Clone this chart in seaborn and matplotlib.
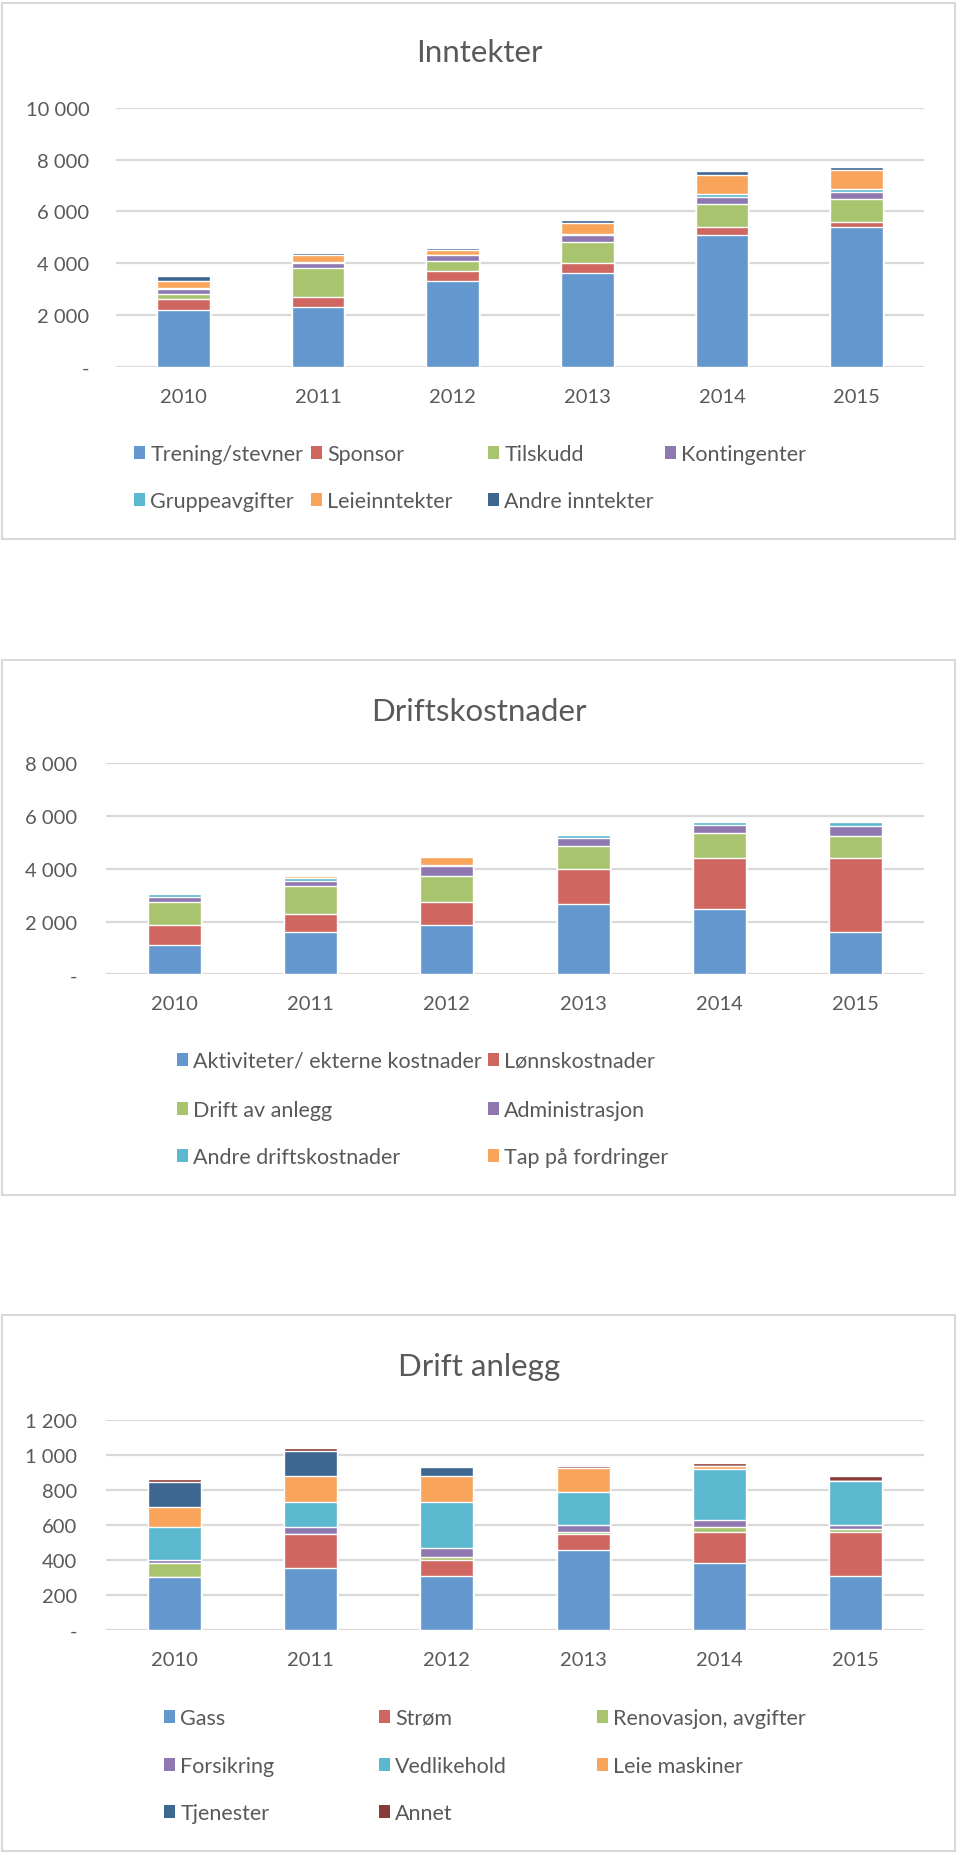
import numpy as np
import matplotlib
matplotlib.use('Agg')
import matplotlib.pyplot as plt
import seaborn as sns
from matplotlib.patches import Patch, Rectangle

sns.set_style('white')
plt.rcParams['font.family'] = ['Lato', 'DejaVu Sans']
plt.rcParams['text.color'] = '#595959'

years = ['2010', '2011', '2012', '2013', '2014', '2015']

# ---- Inntekter ----
inn_labels = ['Trening/stevner', 'Sponsor', 'Tilskudd', 'Kontingenter',
              'Gruppeavgifter', 'Leieinntekter', 'Andre inntekter']
trening = [2200, 2300, 3300, 3600, 5100, 5400]
sponsor = [400, 400, 400, 400, 280, 180]
tilskudd = [200, 1100, 400, 800, 890, 900]
kontingenter = [200, 200, 200, 280, 280, 280]
gruppeavgifter = [40, 40, 30, 40, 100, 100]
leieinntekter = [260, 260, 180, 430, 770, 750]
andre_inntekter = [200, 100, 90, 100, 120, 100]

# ---- Driftskostnader ----
drift_labels = ['Aktiviteter/ ekterne kostnader', 'Lønnskostnader', 'Drift av anlegg',
                'Administrasjon', 'Andre driftskostnader', 'Tap på fordringer']
aktiviteter = [1120, 1600, 1880, 2660, 2470, 1600]
lonn = [760, 670, 880, 1350, 1940, 2800]
drift_anlegg = [880, 1090, 960, 870, 960, 860]
administrasjon = [180, 160, 400, 300, 300, 380]
andre_drift = [110, 125, 20, 100, 115, 140]
tap = [0, 100, 300, 0, 0, 0]

# ---- Drift anlegg ----
anl_labels = ['Gass', 'Strøm', 'Renovasjon, avgifter', 'Forsikring',
              'Vedlikehold', 'Leie maskiner', 'Tjenester', 'Annet']
gass = [300, 355, 310, 455, 385, 310]
strom = [0, 190, 87, 92, 172, 250]
renovasjon = [85, 0, 17, 15, 30, 15]
forsikring = [12, 42, 56, 38, 42, 26]
vedlikehold = [190, 145, 262, 190, 290, 248]
leie_maskiner = [117, 145, 144, 133, 16, 0]
tjenester = [140, 147, 52, 0, 0, 0]
annet = [18, 12, 9, 15, 16, 28]

palette = ['#6497CD', '#CF6660', '#A8C46E', '#8F78B0', '#5BB8CF',
           '#F8A45A', '#3D6690', '#8A3B38']
grid_col = '#D9D9D9'
text_col = '#595959'

W, H = 960, 1856
fig = plt.figure(figsize=(W / 100, H / 100), dpi=100)


def fx(px):
    return px / W


def fy(py):
    return 1 - py / H


def add_axes(left, right, top, bottom):
    return fig.add_axes([fx(left), fy(bottom), fx(right - left), (bottom - top) / H])


def fmt(v):
    return '-' if v == 0 else f'{v:,}'.replace(',', ' ')


def stacked(ax, series, ymax, step, ypad):
    cum = np.cumsum(np.array(series, dtype=float), axis=0)
    # draw tallest first so that lower segments overlay it
    for i in range(len(series) - 1, -1, -1):
        sns.barplot(x=years, y=cum[i], color=palette[i], width=0.39,
                    saturation=1, errorbar=None, ax=ax, zorder=3)
    ax.set_ylim(0, ymax)
    ticks = list(range(0, ymax + 1, step))
    ax.set_yticks(ticks)
    ax.set_yticklabels([fmt(t) for t in ticks])
    ax.yaxis.grid(True, color=grid_col, lw=1.6)
    ax.set_axisbelow(True)
    for s in ax.spines.values():
        s.set_visible(False)
    ax.tick_params(axis='y', length=0, pad=ypad, labelsize=14.5, labelcolor=text_col)
    ax.tick_params(axis='x', length=0, pad=15, labelsize=14.5, labelcolor=text_col)
    ax.set_xlabel('')
    ax.set_ylabel('')


def legend_grid(labels, col_x, row_y):
    ncol = len(col_x)
    for k, lab in enumerate(labels):
        r, c = divmod(k, ncol)
        fig.legend(handles=[Patch(facecolor=palette[k], edgecolor='none')], labels=[lab],
                   loc='center left', bbox_to_anchor=(fx(col_x[c]), fy(row_y[r])),
                   frameon=False, fontsize=15.5, handlelength=0.5, handleheight=0.55,
                   handletextpad=0.25, borderpad=0, borderaxespad=0, labelcolor=text_col)


def panel(top, bottom):
    fig.add_artist(Rectangle((fx(2), fy(bottom)), fx(955 - 2), (bottom - top) / H,
                             transform=fig.transFigure, facecolor='none',
                             edgecolor=grid_col, lw=1.5))


def title(text, y):
    fig.text(fx(479), fy(y), text, ha='center', va='center', fontsize=22.5,
             color=text_col)


# Panel 1
panel(4, 540)
title('Inntekter', 53)
ax1 = add_axes(116, 924, 108.7, 367.7)
stacked(ax1, [trening, sponsor, tilskudd, kontingenter, gruppeavgifter,
              leieinntekter, andre_inntekter], 10000, 2000, 19)
legend_grid(inn_labels, [134, 311, 488, 665], [455, 502])

# Panel 2
panel(661, 1196)
title('Driftskostnader', 711.7)
ax2 = add_axes(106, 924, 764.3, 975.3)
stacked(ax2, [aktiviteter, lonn, drift_anlegg, administrasjon, andre_drift, tap],
        8000, 2000, 21)
legend_grid(drift_labels, [177, 488], [1062, 1111, 1158])

# Panel 3
panel(1316, 1852)
title('Drift anlegg', 1366.7)
ax3 = add_axes(106, 924, 1420.7, 1631)
stacked(ax3, [gass, strom, renovasjon, forsikring, vedlikehold, leie_maskiner,
              tjenester, annet], 1200, 200, 21)
legend_grid(anl_labels, [164, 379, 597], [1719, 1767, 1814])

fig.savefig('out.png', dpi=100, facecolor='white')
